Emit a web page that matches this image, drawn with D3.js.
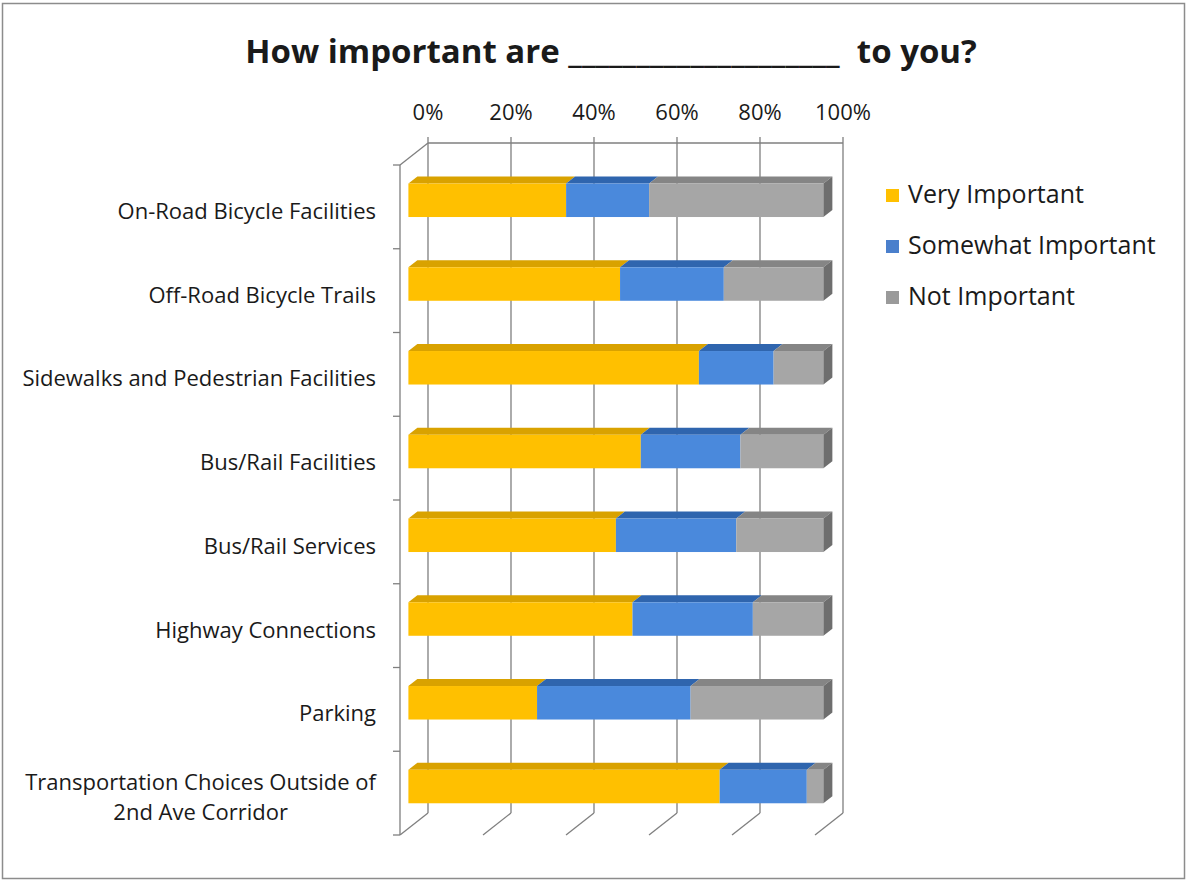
<!DOCTYPE html>
<html>
<head>
<meta charset="utf-8">
<script src="https://cdn.jsdelivr.net/npm/d3@7"></script>
<style>
  body { margin: 0; background: #fff; }
  text { font-family: "Open Sans", Lato, sans-serif; fill: #1a1a1a; }
</style>
</head>
<body>
<script>
//---------------------------------- datos
var categorias = [
  "On-Road Bicycle Facilities",
  "Off-Road Bicycle Trails",
  "Sidewalks and Pedestrian Facilities",
  "Bus/Rail Facilities",
  "Bus/Rail Services",
  "Highway Connections",
  "Parking",
  "Transportation Choices Outside of|2nd Ave Corridor"
];
var series = ["Very Important", "Somewhat Important", "Not Important"];
var veryImportant     = [38, 51, 70, 56, 50, 54, 31, 75];
var somewhatImportant = [20, 25, 18, 24, 29, 29, 37, 21];
var notImportant      = [42, 24, 12, 20, 21, 17, 32, 4];
var ticks = [0, 0.2, 0.4, 0.6, 0.8, 1];

//---------------------------------- medidas
var ancho = 1188, alto = 882;
var xIzq = 400, xDer = 815, yTop = 165, yBot = 835;
var prof = {dx: 28, dy: -22};      // profundidad del piso 3D
var fFront = 0.3, fBack = 0.62;    // posicion de las barras en la profundidad

var colores = {
  front: ["#FFC000", "#4A89DC", "#A6A6A6"],
  top:   ["#D9A200", "#2F65AE", "#858585"],
  side:  ["#B88900", "#2A5A9C", "#6E6E6E"],
  legend:["#FFC000", "#4A7FCC", "#9A9A9A"]
};

var svg = d3.select("body").append("svg")
  .attr("width", ancho).attr("height", alto);

svg.append("rect")
  .attr("x", 2.5).attr("y", 3.5).attr("width", 1182).attr("height", 875)
  .attr("fill", "#fff").attr("stroke", "#8c8c8c").attr("stroke-width", 1.5);

svg.append("text")
  .attr("x", 611).attr("y", 63)
  .attr("text-anchor", "middle")
  .style("font-size", "33px").style("font-weight", "bold")
  .style("white-space", "pre")
  .text("How important are ____________________  to you?");

var x = d3.scaleLinear().domain([0, 1]).range([xIzq, xDer]);
var y = d3.scaleBand().domain(categorias).range([yTop, yBot])
  .paddingInner(0.6).paddingOuter(0.3);
var paso = (yBot - yTop) / categorias.length;

var pct = d3.format(".0%");
var lineaColor = "#7f7f7f";

//---------------------------------- paredes y cuadricula
var g = svg.append("g").attr("stroke", lineaColor).attr("stroke-width", 1.3).attr("fill", "none");

ticks.forEach(function (t) {
  var xb = x(t) + prof.dx;
  g.append("line").attr("x1", xb).attr("x2", xb)
    .attr("y1", yTop + prof.dy - 6).attr("y2", yBot + prof.dy);
  g.append("line").attr("x1", xb).attr("x2", x(t))
    .attr("y1", yBot + prof.dy).attr("y2", yBot);
});
g.append("line").attr("x1", x(0) + prof.dx).attr("x2", x(1) + prof.dx)
  .attr("y1", yTop + prof.dy).attr("y2", yTop + prof.dy);
// pared izquierda
g.append("line").attr("x1", xIzq).attr("x2", xIzq).attr("y1", yTop).attr("y2", yBot);
g.append("line").attr("x1", xIzq).attr("x2", xIzq + prof.dx)
  .attr("y1", yTop).attr("y2", yTop + prof.dy);
d3.range(categorias.length + 1).forEach(function (i) {
  g.append("line").attr("x1", xIzq - 7).attr("x2", xIzq)
    .attr("y1", yTop + i * paso).attr("y2", yTop + i * paso);
});

// etiquetas de eje superior
svg.selectAll(".tick-lbl").data(ticks).enter().append("text")
  .attr("class", "tick-lbl")
  .attr("x", function (d) { return x(d) + prof.dx; })
  .attr("y", 120)
  .attr("text-anchor", "middle")
  .style("font-size", "22px")
  .text(pct);

// etiquetas de categorias
svg.selectAll(".cat-lbl").data(categorias).enter().append("text")
  .attr("class", "cat-lbl")
  .style("font-size", "22px")
  .each(function (d) {
    var lineas = d.split("|");
    var cy = y(d) + y.bandwidth() / 2 + 12;
    var t = d3.select(this);
    var spans = lineas.map(function (l, k) {
      return t.append("tspan")
        .attr("y", cy + (k - (lineas.length - 1) / 2) * 30)
        .text(l);
    });
    // lineas centradas entre si, bloque alineado a la derecha
    var anchos = spans.map(function (s) { return s.node().getComputedTextLength(); });
    var maxW = d3.max(anchos);
    spans.forEach(function (s) {
      s.attr("x", 376 - maxW / 2).attr("text-anchor", "middle");
    });
  });

//---------------------------------- barras 3D
var valores = [veryImportant, somewhatImportant, notImportant];
var pila = categorias.map(function (c, i) {
  var acc = 0, tot = veryImportant[i] + somewhatImportant[i] + notImportant[i];
  return valores.map(function (v, s) {
    var r = {cat: c, s: s, x0: acc / tot};
    acc += v[i];
    r.x1 = acc / tot;
    return r;
  });
});

var fx = prof.dx * fFront, fy = prof.dy * fFront;
var bdx = prof.dx * (fBack - fFront), bdy = prof.dy * (fBack - fFront);

var barras = svg.append("g");
pila.forEach(function (segs) {
  var gb = barras.append("g");
  segs.forEach(function (d) {
    var xa = x(d.x0) + fx, xb = x(d.x1) + fx;
    var ya = y(d.cat) + fy, h = y.bandwidth();
    gb.append("path")
      .attr("d", "M" + xa + "," + ya + "L" + xb + "," + ya +
        "L" + (xb + bdx) + "," + (ya + bdy) + "L" + (xa + bdx) + "," + (ya + bdy) + "Z")
      .attr("fill", colores.top[d.s]);
    gb.append("rect")
      .attr("x", xa).attr("y", ya).attr("width", xb - xa).attr("height", h)
      .attr("fill", colores.front[d.s]);
  });
  var last = segs[segs.length - 1];
  var xe = x(last.x1) + fx, ye = y(last.cat) + fy;
  gb.append("path")
    .attr("d", "M" + xe + "," + ye + "L" + (xe + bdx) + "," + (ye + bdy) +
      "L" + (xe + bdx) + "," + (ye + bdy + y.bandwidth()) + "L" + xe + "," + (ye + y.bandwidth()) + "Z")
    .attr("fill", colores.side[last.s]);
});

//---------------------------------- leyenda
var ley = svg.append("g").attr("transform", "translate(886,0)");
series.forEach(function (s, i) {
  var yb = 203 + i * 51;
  ley.append("rect").attr("x", 0).attr("y", yb - 14).attr("width", 13).attr("height", 13)
    .attr("fill", colores.legend[i]);
  ley.append("text").attr("x", 22).attr("y", yb)
    .style("font-size", "25px").text(s);
});
</script>
</body>
</html>
